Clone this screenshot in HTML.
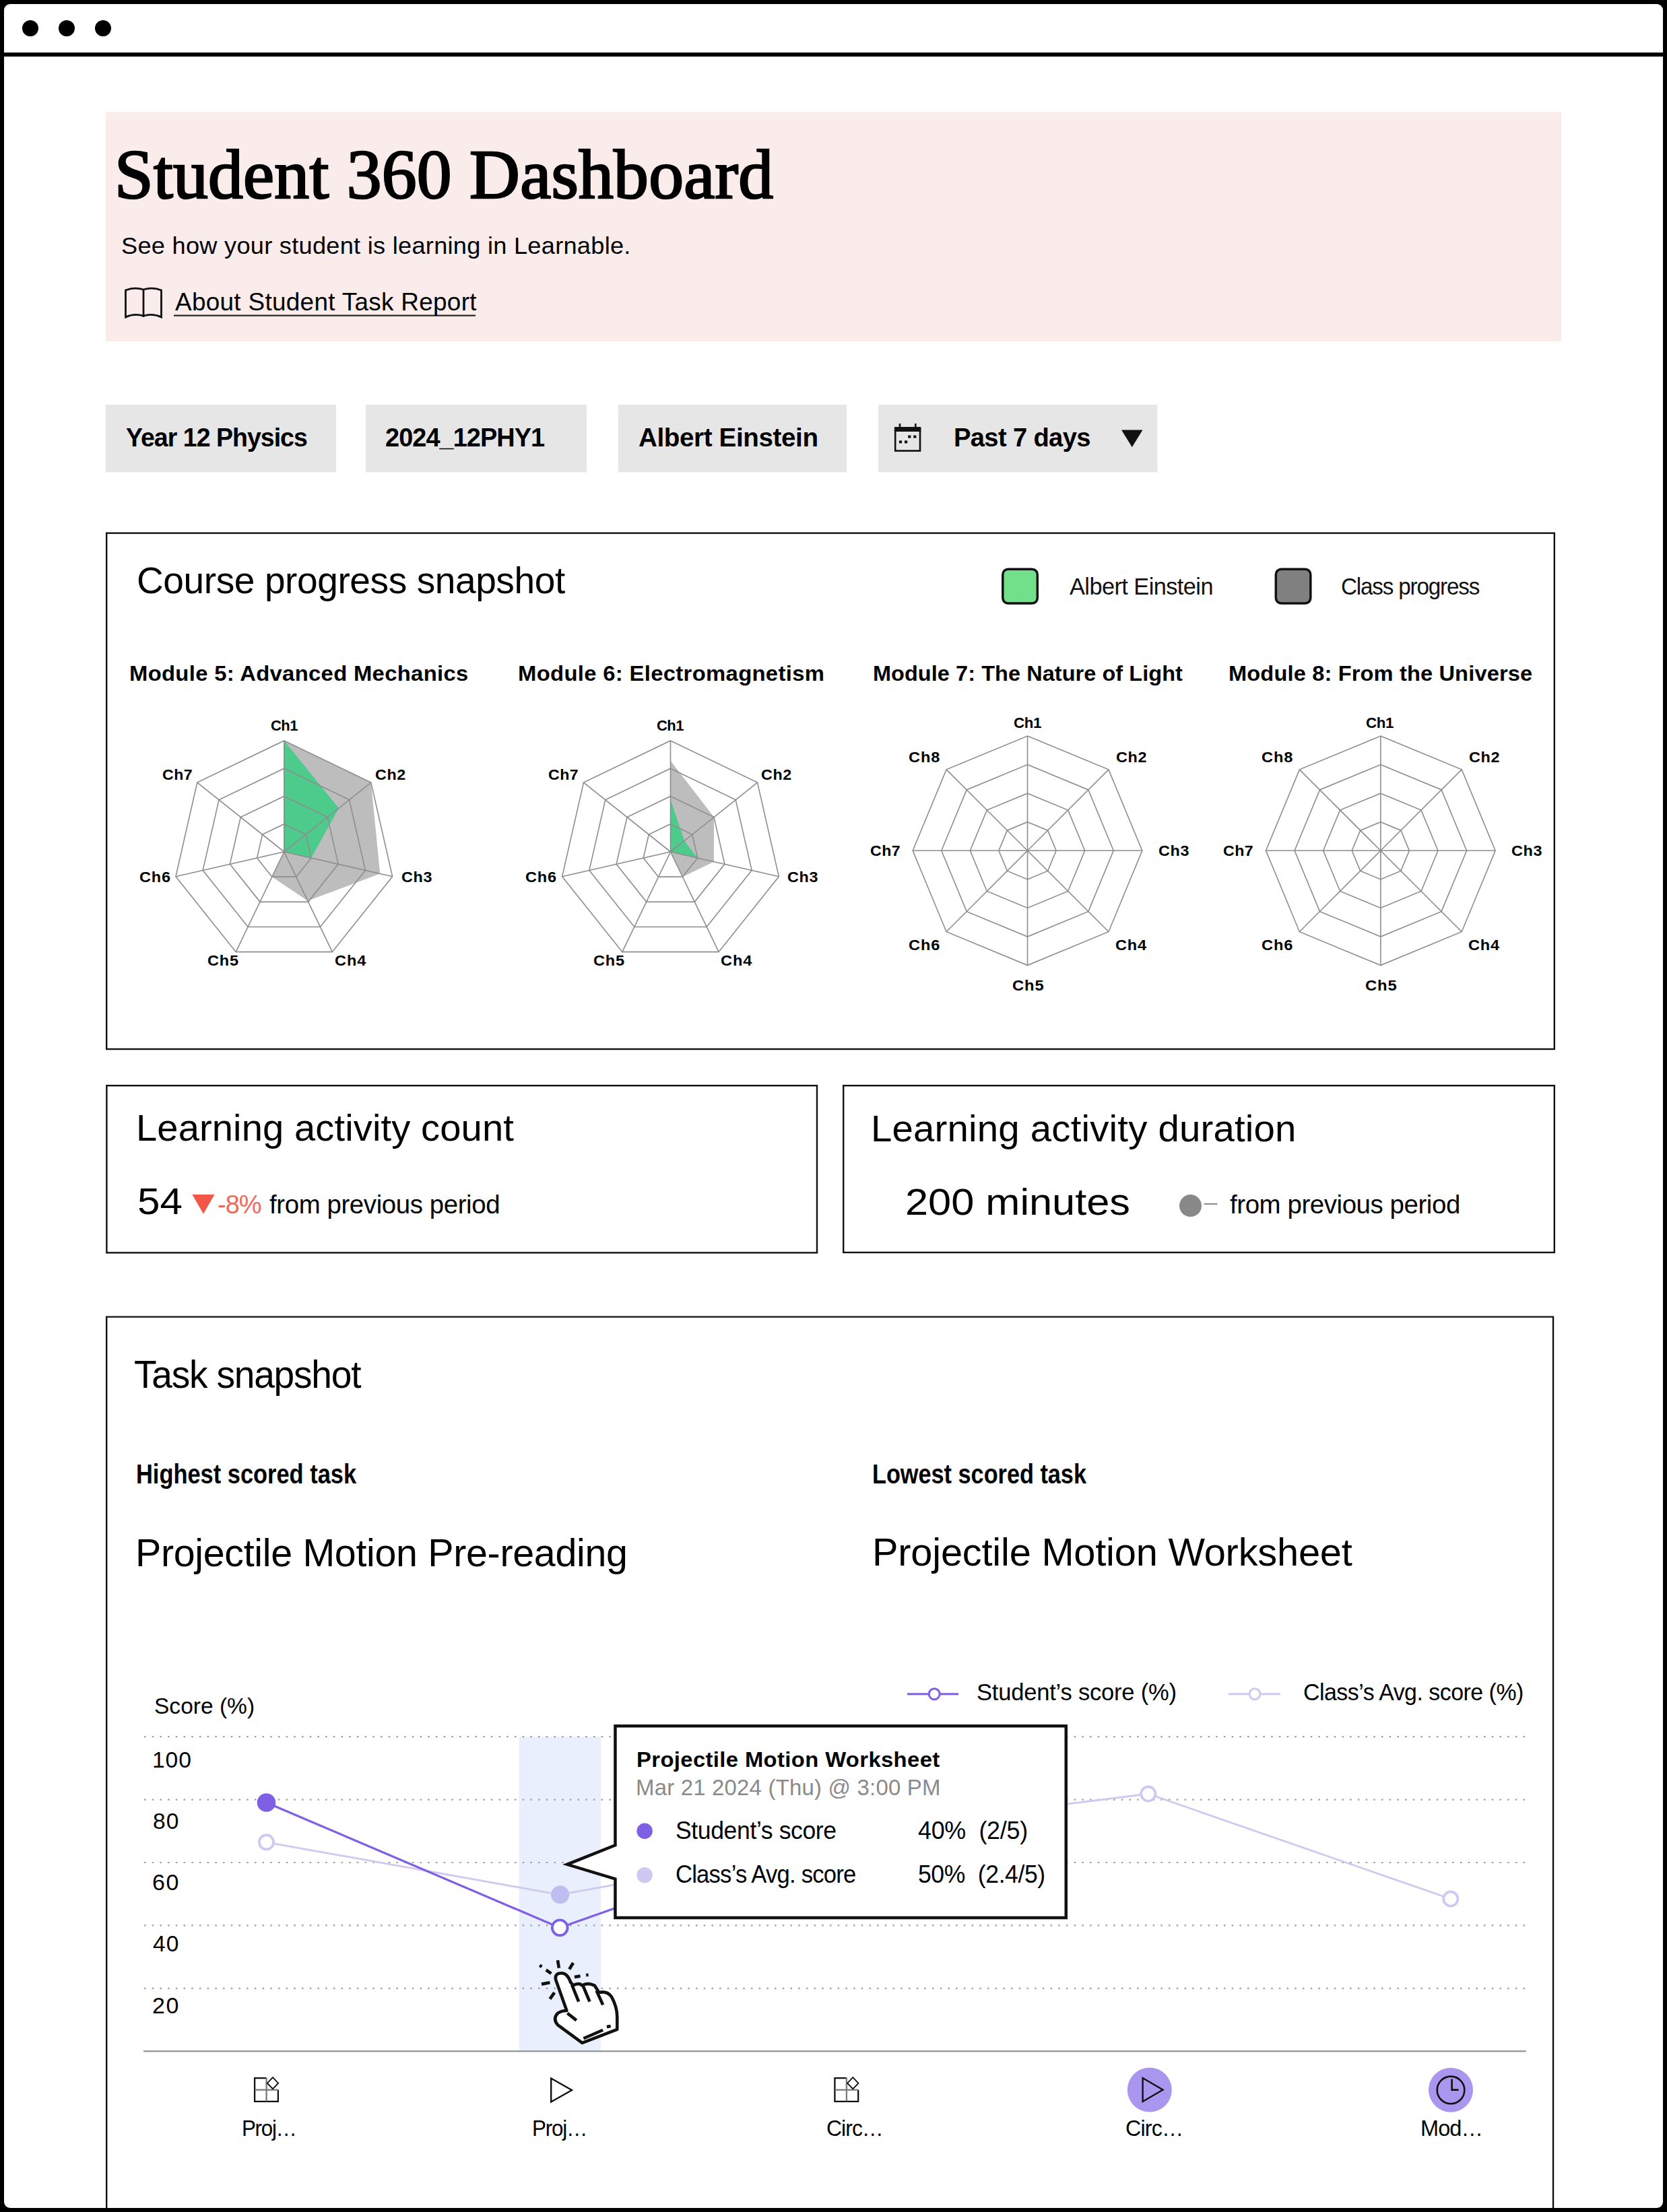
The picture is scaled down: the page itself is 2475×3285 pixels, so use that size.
<!DOCTYPE html>
<html><head><meta charset="utf-8"><title>Student 360 Dashboard</title>
<style>
html,body{margin:0;padding:0;}
body{width:2475px;height:3285px;background:#000;position:relative;overflow:hidden;}
.frame{position:absolute;left:6px;top:6px;width:2463px;height:3273px;background:#fff;border-radius:9px;overflow:hidden;}
.bar{position:absolute;left:0;top:78px;width:2475px;height:6px;background:#000;}
.dot{position:absolute;top:30px;width:24px;height:24px;border-radius:50%;background:#000;}
svg{position:absolute;left:0;top:0;}
.t{position:absolute;white-space:nowrap;transform-origin:0 0;}
</style></head><body>
<div class="frame"></div>
<div class="bar"></div>
<div class="dot" style="left:33px"></div><div class="dot" style="left:87px"></div><div class="dot" style="left:141px"></div>
<svg width="2475" height="3279" viewBox="0 0 2475 3279" style="z-index:1">
<rect x="157" y="166.5" width="2161" height="340.5" fill="#f9ecea"/>
<g fill="none" stroke="#111" stroke-width="2.8" stroke-linejoin="miter"><path d="M186.5,471 V431 Q199,426 213,430 Q227,426 239.5,431 V471 Q227,465 213,469 Q199,465 186.5,471 Z"/><path d="M213,430 V471"/></g>
<rect x="258" y="467.5" width="448" height="2.2" fill="#262626"/>
<rect x="156.7" y="601" width="342.3" height="100.4" fill="#e6e6e6"/>
<rect x="543" y="601" width="328.0" height="100.4" fill="#e6e6e6"/>
<rect x="917.8" y="601" width="339.2" height="100.4" fill="#e6e6e6"/>
<rect x="1304" y="601" width="414.5" height="100.4" fill="#e6e6e6"/>
<g fill="none" stroke="#111" stroke-width="2.6"><rect x="1329.2" y="637" width="36.8" height="32.5"/></g><rect x="1327.9" y="634" width="39.4" height="7" fill="#111"/><rect x="1334.7" y="629" width="2.6" height="6" fill="#111"/><rect x="1358" y="629" width="2.6" height="6" fill="#111"/><g fill="#111"><rect x="1334.9" y="654.3" width="4.2" height="4"/><rect x="1343" y="654.3" width="4.2" height="4"/><rect x="1348.2" y="646.5" width="4.2" height="4"/><rect x="1356.2" y="646.5" width="4.2" height="4"/></g>
<polygon points="1665,638.6 1696.5,638.6 1680.75,664" fill="#111"/>
<rect x="158.2" y="791.7" width="2149.6" height="766.3" fill="none" stroke="#111" stroke-width="2.4"/>
<rect x="1488.8" y="845.2" width="51.5" height="50.8" rx="8" fill="#72df8b" stroke="#111" stroke-width="3.5"/>
<rect x="1894.3" y="845.2" width="51.5" height="50.8" rx="8" fill="#808080" stroke="#111" stroke-width="3.5"/>
<polygon points="421.80,1100.00 550.80,1162.12 564.32,1297.53 456.88,1337.84 403.90,1302.16 421.80,1265.00 421.80,1265.00" fill="#bdbdbd"/>
<polygon points="421.80,1100.00 503.07,1200.19 462.02,1274.18 421.80,1265.00 421.80,1265.00 421.80,1265.00 421.80,1265.00" fill="#4ccb8b"/>
<g fill="none" stroke="#8e8e8e" stroke-width="1.6"><polygon points="421.80,1223.75 454.05,1239.28 462.02,1274.18 439.70,1302.16 403.90,1302.16 381.58,1274.18 389.55,1239.28"/><polygon points="421.80,1182.50 486.30,1213.56 502.23,1283.36 457.60,1339.33 386.00,1339.33 341.37,1283.36 357.30,1213.56"/><polygon points="421.80,1141.25 518.55,1187.84 542.45,1292.54 475.49,1376.49 368.11,1376.49 301.15,1292.54 325.05,1187.84"/><polygon points="421.80,1100.00 550.80,1162.12 582.66,1301.72 493.39,1413.66 350.21,1413.66 260.94,1301.72 292.80,1162.12"/><line x1="421.8" y1="1265" x2="421.80" y2="1100.00"/><line x1="421.8" y1="1265" x2="550.80" y2="1162.12"/><line x1="421.8" y1="1265" x2="582.66" y2="1301.72"/><line x1="421.8" y1="1265" x2="493.39" y2="1413.66"/><line x1="421.8" y1="1265" x2="350.21" y2="1413.66"/><line x1="421.8" y1="1265" x2="260.94" y2="1301.72"/><line x1="421.8" y1="1265" x2="292.80" y2="1162.12"/></g>
<polygon points="995.50,1129.70 1060.00,1213.56 1059.85,1279.69 1013.40,1302.16 995.50,1265.00 995.50,1265.00 995.50,1265.00" fill="#bdbdbd"/>
<polygon points="995.50,1187.45 1016.14,1248.54 1035.72,1274.18 995.50,1265.00 995.50,1265.00 995.50,1265.00 995.50,1265.00" fill="#4ccb8b"/>
<g fill="none" stroke="#8e8e8e" stroke-width="1.6"><polygon points="995.50,1223.75 1027.75,1239.28 1035.72,1274.18 1013.40,1302.16 977.60,1302.16 955.28,1274.18 963.25,1239.28"/><polygon points="995.50,1182.50 1060.00,1213.56 1075.93,1283.36 1031.30,1339.33 959.70,1339.33 915.07,1283.36 931.00,1213.56"/><polygon points="995.50,1141.25 1092.25,1187.84 1116.15,1292.54 1049.19,1376.49 941.81,1376.49 874.85,1292.54 898.75,1187.84"/><polygon points="995.50,1100.00 1124.50,1162.12 1156.36,1301.72 1067.09,1413.66 923.91,1413.66 834.64,1301.72 866.50,1162.12"/><line x1="995.5" y1="1265" x2="995.50" y2="1100.00"/><line x1="995.5" y1="1265" x2="1124.50" y2="1162.12"/><line x1="995.5" y1="1265" x2="1156.36" y2="1301.72"/><line x1="995.5" y1="1265" x2="1067.09" y2="1413.66"/><line x1="995.5" y1="1265" x2="923.91" y2="1413.66"/><line x1="995.5" y1="1265" x2="834.64" y2="1301.72"/><line x1="995.5" y1="1265" x2="866.50" y2="1162.12"/></g>
<g fill="none" stroke="#8e8e8e" stroke-width="1.6"><polygon points="1525.50,1220.72 1555.61,1233.19 1568.08,1263.30 1555.61,1293.41 1525.50,1305.88 1495.39,1293.41 1482.92,1263.30 1495.39,1233.19"/><polygon points="1525.50,1178.15 1585.71,1203.09 1610.65,1263.30 1585.71,1323.51 1525.50,1348.45 1465.29,1323.51 1440.35,1263.30 1465.29,1203.09"/><polygon points="1525.50,1135.58 1615.82,1172.98 1653.22,1263.30 1615.82,1353.62 1525.50,1391.02 1435.18,1353.62 1397.78,1263.30 1435.18,1172.98"/><polygon points="1525.50,1093.00 1645.92,1142.88 1695.80,1263.30 1645.92,1383.72 1525.50,1433.60 1405.08,1383.72 1355.20,1263.30 1405.08,1142.88"/><line x1="1525.5" y1="1263.3" x2="1525.50" y2="1093.00"/><line x1="1525.5" y1="1263.3" x2="1645.92" y2="1142.88"/><line x1="1525.5" y1="1263.3" x2="1695.80" y2="1263.30"/><line x1="1525.5" y1="1263.3" x2="1645.92" y2="1383.72"/><line x1="1525.5" y1="1263.3" x2="1525.50" y2="1433.60"/><line x1="1525.5" y1="1263.3" x2="1405.08" y2="1383.72"/><line x1="1525.5" y1="1263.3" x2="1355.20" y2="1263.30"/><line x1="1525.5" y1="1263.3" x2="1405.08" y2="1142.88"/></g>
<g fill="none" stroke="#8e8e8e" stroke-width="1.6"><polygon points="2049.80,1220.72 2079.91,1233.19 2092.38,1263.30 2079.91,1293.41 2049.80,1305.88 2019.69,1293.41 2007.23,1263.30 2019.69,1233.19"/><polygon points="2049.80,1178.15 2110.01,1203.09 2134.95,1263.30 2110.01,1323.51 2049.80,1348.45 1989.59,1323.51 1964.65,1263.30 1989.59,1203.09"/><polygon points="2049.80,1135.58 2140.12,1172.98 2177.53,1263.30 2140.12,1353.62 2049.80,1391.02 1959.48,1353.62 1922.08,1263.30 1959.48,1172.98"/><polygon points="2049.80,1093.00 2170.22,1142.88 2220.10,1263.30 2170.22,1383.72 2049.80,1433.60 1929.38,1383.72 1879.50,1263.30 1929.38,1142.88"/><line x1="2049.8" y1="1263.3" x2="2049.80" y2="1093.00"/><line x1="2049.8" y1="1263.3" x2="2170.22" y2="1142.88"/><line x1="2049.8" y1="1263.3" x2="2220.10" y2="1263.30"/><line x1="2049.8" y1="1263.3" x2="2170.22" y2="1383.72"/><line x1="2049.8" y1="1263.3" x2="2049.80" y2="1433.60"/><line x1="2049.8" y1="1263.3" x2="1929.38" y2="1383.72"/><line x1="2049.8" y1="1263.3" x2="1879.50" y2="1263.30"/><line x1="2049.8" y1="1263.3" x2="1929.38" y2="1142.88"/></g>
<rect x="158.4" y="1612.2" width="1054.6" height="248.2" fill="none" stroke="#111" stroke-width="2.4"/>
<rect x="1252.2" y="1612.2" width="1055.6" height="247.8" fill="none" stroke="#111" stroke-width="2.4"/>
<polygon points="285.4,1774 318.5,1774 301.95,1802.7" fill="#f4574a"/>
<circle cx="1767.5" cy="1790.6" r="16.5" fill="#888"/>
<rect x="1787.6" y="1787" width="19.8" height="2" fill="#888"/>
<path d="M158.2,3285 V1955.6 H2306 V3285" fill="none" stroke="#111" stroke-width="2.4"/>
<rect x="770.6" y="2579" width="121.4" height="467" fill="#e9effc"/>
<line x1="214" y1="2579.2" x2="2265" y2="2579.2" stroke="#a0a0a0" stroke-width="2.2" stroke-dasharray="2.6 9.1"/>
<line x1="214" y1="2672.6" x2="2265" y2="2672.6" stroke="#a0a0a0" stroke-width="2.2" stroke-dasharray="2.6 9.1"/>
<line x1="214" y1="2766" x2="2265" y2="2766" stroke="#a0a0a0" stroke-width="2.2" stroke-dasharray="2.6 9.1"/>
<line x1="214" y1="2859.4" x2="2265" y2="2859.4" stroke="#a0a0a0" stroke-width="2.2" stroke-dasharray="2.6 9.1"/>
<line x1="214" y1="2952.8" x2="2265" y2="2952.8" stroke="#a0a0a0" stroke-width="2.2" stroke-dasharray="2.6 9.1"/>
<rect x="213" y="3045" width="2052.7" height="2.4" fill="#9a9a9a"/>
<polyline points="395.50,2735.80 831.00,2813.80 1257.00,2736.40 1257.00,2720.00 1704.80,2664.00 2153.80,2820.00" fill="none" stroke="#d0c8f0" stroke-width="2.8"/>
<polyline points="395.50,2677.00 831.00,2862.80 1257.00,2712.50" fill="none" stroke="#7f60e5" stroke-width="3.2"/>
<circle cx="395.5" cy="2677" r="13.8" fill="#7f60e5"/>
<circle cx="395.5" cy="2735.8" r="10.6" fill="#fff" stroke="#d0c8f0" stroke-width="3.8"/>
<circle cx="831.6" cy="2813.8" r="13.5" fill="#c0bdf0"/>
<circle cx="831.2" cy="2862.8" r="11.4" fill="#fff" stroke="#7f60e5" stroke-width="3.8"/>
<circle cx="1704.8" cy="2664" r="10.6" fill="#fff" stroke="#d0c8f0" stroke-width="3.8"/>
<circle cx="2153.8" cy="2820" r="10.6" fill="#fff" stroke="#d0c8f0" stroke-width="3.8"/>
<rect x="1347" y="2514.3" width="76" height="3" fill="#7f60e5"/><circle cx="1387.2" cy="2515.8" r="8" fill="#fff" stroke="#7f60e5" stroke-width="3"/>
<rect x="1824" y="2514.3" width="76.7" height="3" fill="#d0c8f0"/><circle cx="1863" cy="2515.8" r="8" fill="#fff" stroke="#d0c8f0" stroke-width="3"/>
<g fill="none" stroke-width="2.3"><path d="M395.6,3086.1 H378.1 V3120.9 H412.9 V3103.5" stroke="#111"/><path d="M378.5,3103.6 H412.5 M395.6,3085.5 V3120.5" stroke="#7a7a7a"/><path d="M405.0,3085.2 L413.2,3093.7 L405.0,3102.2 L396.8,3093.7 Z" stroke="#111" stroke-width="1.9" fill="#fff"/></g>
<g fill="none" stroke-width="2.3"><path d="M1256.8999999999999,3086.1 H1239.3999999999999 V3120.9 H1274.2 V3103.5" stroke="#111"/><path d="M1239.8,3103.6 H1273.8 M1256.8999999999999,3085.5 V3120.5" stroke="#7a7a7a"/><path d="M1266.3,3085.2 L1274.5,3093.7 L1266.3,3102.2 L1258.1,3093.7 Z" stroke="#111" stroke-width="1.9" fill="#fff"/></g>
<path d="M818.2,3086.5 V3121.5 L849,3104 Z" fill="none" stroke="#111" stroke-width="2.4" stroke-linejoin="miter"/>
<circle cx="1706.8" cy="3103.6" r="33" fill="#a996ee"/>
<path d="M1696.6,3086 V3121 L1726.5,3103.5 Z" fill="none" stroke="#111" stroke-width="2.4"/>
<circle cx="2154" cy="3103.7" r="33" fill="#a996ee"/>
<circle cx="2154" cy="3103.9" r="20.3" fill="none" stroke="#111" stroke-width="2.6"/>
<path d="M2155.6,3087.5 V3103.6 H2165.5" fill="none" stroke="#111" stroke-width="2.6"/>
</svg>
<div style="position:absolute;left:0;top:0;z-index:2">
<div class="t" style="left:170.00px;top:208.38px;font-family:'Liberation Serif';font-weight:400;font-size:103.664px;line-height:103.664px;letter-spacing:0.250px;color:#000;-webkit-text-stroke:2.6px #000;">Student 360 Dashboard</div>
<div class="t" style="left:180.07px;top:348.36px;font-family:'Liberation Sans';font-weight:400;font-size:35.610px;line-height:35.610px;letter-spacing:0.263px;color:#000;transform:scaleX(1.0163);">See how your student is learning in Learnable.</div>
<div class="t" style="left:259.50px;top:431.24px;font-family:'Liberation Sans';font-weight:400;font-size:36.337px;line-height:36.337px;letter-spacing:0.289px;color:#000;transform:scaleX(1.0160);">About Student Task Report</div>
<div class="t" style="left:187.25px;top:629.56px;font-family:'Liberation Sans';font-weight:700;font-size:39.390px;line-height:39.390px;letter-spacing:-1.017px;color:#000;transform:scaleX(0.9517);">Year 12 Physics</div>
<div class="t" style="left:572.04px;top:629.86px;font-family:'Liberation Sans';font-weight:700;font-size:39.390px;line-height:39.390px;letter-spacing:-0.968px;color:#000;transform:scaleX(0.9619);">2024_12PHY1</div>
<div class="t" style="left:947.92px;top:629.86px;font-family:'Liberation Sans';font-weight:700;font-size:39.390px;line-height:39.390px;letter-spacing:-0.390px;color:#000;transform:scaleX(0.9802);">Albert Einstein</div>
<div class="t" style="left:1416.19px;top:629.86px;font-family:'Liberation Sans';font-weight:700;font-size:39.390px;line-height:39.390px;letter-spacing:-0.665px;color:#000;transform:scaleX(0.9686);">Past 7 days</div>
<div class="t" style="left:203.35px;top:833.93px;font-family:'Liberation Sans';font-weight:400;font-size:55.959px;line-height:55.959px;letter-spacing:-0.434px;color:#000;transform:scaleX(0.9847);">Course progress snapshot</div>
<div class="t" style="left:1587.50px;top:854.36px;font-family:'Liberation Sans';font-weight:400;font-size:35.610px;line-height:35.610px;letter-spacing:-0.582px;color:#111;transform:scaleX(0.9641);">Albert Einstein</div>
<div class="t" style="left:1990.64px;top:854.36px;font-family:'Liberation Sans';font-weight:400;font-size:35.610px;line-height:35.610px;letter-spacing:-1.235px;color:#111;transform:scaleX(0.9314);">Class progress</div>
<div class="t" style="left:192.27px;top:984.29px;font-family:'Liberation Sans';font-weight:700;font-size:32.267px;line-height:32.267px;letter-spacing:0.312px;color:#000;transform:scaleX(1.0174);">Module 5: Advanced Mechanics</div>
<div class="t" style="left:768.96px;top:984.29px;font-family:'Liberation Sans';font-weight:700;font-size:32.267px;line-height:32.267px;letter-spacing:0.313px;color:#000;transform:scaleX(1.0180);">Module 6: Electromagnetism</div>
<div class="t" style="left:1295.69px;top:984.29px;font-family:'Liberation Sans';font-weight:700;font-size:32.267px;line-height:32.267px;letter-spacing:0.085px;color:#000;transform:scaleX(1.0053);">Module 7: The Nature of Light</div>
<div class="t" style="left:1824.48px;top:984.29px;font-family:'Liberation Sans';font-weight:700;font-size:32.267px;line-height:32.267px;letter-spacing:0.163px;color:#000;transform:scaleX(1.0096);">Module 8: From the Universe</div>
<div class="t" style="left:201.88px;top:1647.33px;font-family:'Liberation Sans';font-weight:400;font-size:55.959px;line-height:55.959px;letter-spacing:0.095px;color:#000;transform:scaleX(1.0038);">Learning activity count</div>
<div class="t" style="left:204.31px;top:1757.29px;font-family:'Liberation Sans';font-weight:400;font-size:54.942px;line-height:54.942px;letter-spacing:0.000px;color:#000;transform:scaleX(1.0948);">54</div>
<div class="t" style="left:322.56px;top:1768.78px;font-family:'Liberation Sans';font-weight:400;font-size:39.244px;line-height:39.244px;letter-spacing:-1.015px;color:#f0685c;transform:scaleX(0.9697);">-8%</div>
<div class="t" style="left:399.50px;top:1768.78px;font-family:'Liberation Sans';font-weight:400;font-size:39.244px;line-height:39.244px;letter-spacing:-0.399px;color:#000;transform:scaleX(0.9786);">from previous period</div>
<div class="t" style="left:1293.47px;top:1648.23px;font-family:'Liberation Sans';font-weight:400;font-size:55.959px;line-height:55.959px;letter-spacing:0.189px;color:#000;transform:scaleX(1.0077);">Learning activity duration</div>
<div class="t" style="left:1343.64px;top:1758.11px;font-family:'Liberation Sans';font-weight:400;font-size:54.797px;line-height:54.797px;letter-spacing:0.000px;color:#000;transform:scaleX(1.1191);">200 minutes</div>
<div class="t" style="left:1825.50px;top:1769.28px;font-family:'Liberation Sans';font-weight:400;font-size:39.244px;line-height:39.244px;letter-spacing:-0.407px;color:#000;transform:scaleX(0.9782);">from previous period</div>
<div class="t" style="left:198.54px;top:2013.28px;font-family:'Liberation Sans';font-weight:400;font-size:57.558px;line-height:57.558px;letter-spacing:-1.294px;color:#000;transform:scaleX(0.9577);">Task snapshot</div>
<div class="t" style="left:201.62px;top:2169.96px;font-family:'Liberation Sans';font-weight:700;font-size:39.971px;line-height:39.971px;letter-spacing:0.000px;color:#000;transform:scaleX(0.8610);">Highest scored task</div>
<div class="t" style="left:200.56px;top:2276.78px;font-family:'Liberation Sans';font-weight:400;font-size:58.140px;line-height:58.140px;letter-spacing:-0.332px;color:#000;transform:scaleX(0.9874);">Projectile Motion Pre-reading</div>
<div class="t" style="left:1294.93px;top:2170.16px;font-family:'Liberation Sans';font-weight:700;font-size:39.971px;line-height:39.971px;letter-spacing:0.000px;color:#000;transform:scaleX(0.8571);">Lowest scored task</div>
<div class="t" style="left:1294.53px;top:2275.58px;font-family:'Liberation Sans';font-weight:400;font-size:58.140px;line-height:58.140px;letter-spacing:-0.187px;color:#000;transform:scaleX(0.9932);">Projectile Motion Worksheet</div>
<div class="t" style="left:228.80px;top:2517.20px;font-family:'Liberation Sans';font-weight:400;font-size:33.430px;line-height:33.430px;letter-spacing:0.031px;color:#000;transform:scaleX(1.0017);">Score (%)</div>
<div class="t" style="left:226.43px;top:2597.84px;font-family:'Liberation Sans';font-weight:400;font-size:32.558px;line-height:32.558px;letter-spacing:0.860px;color:#000;transform:scaleX(1.0337);">100</div>
<div class="t" style="left:227.47px;top:2688.74px;font-family:'Liberation Sans';font-weight:400;font-size:32.558px;line-height:32.558px;letter-spacing:0.986px;color:#000;transform:scaleX(1.0290);">80</div>
<div class="t" style="left:226.41px;top:2779.94px;font-family:'Liberation Sans';font-weight:400;font-size:32.558px;line-height:32.558px;letter-spacing:1.467px;color:#000;transform:scaleX(1.0445);">60</div>
<div class="t" style="left:227.47px;top:2871.44px;font-family:'Liberation Sans';font-weight:400;font-size:32.558px;line-height:32.558px;letter-spacing:0.986px;color:#000;transform:scaleX(1.0290);">40</div>
<div class="t" style="left:226.41px;top:2962.94px;font-family:'Liberation Sans';font-weight:400;font-size:32.558px;line-height:32.558px;letter-spacing:1.467px;color:#000;transform:scaleX(1.0445);">20</div>
<div class="t" style="left:1450.32px;top:2496.47px;font-family:'Liberation Sans';font-weight:400;font-size:34.884px;line-height:34.884px;letter-spacing:-0.187px;color:#000;transform:scaleX(0.9888);">Student’s score (%)</div>
<div class="t" style="left:1934.56px;top:2496.47px;font-family:'Liberation Sans';font-weight:400;font-size:34.884px;line-height:34.884px;letter-spacing:-0.488px;color:#000;transform:scaleX(0.9702);">Class’s Avg. score (%)</div>
<div class="t" style="left:358.69px;top:3143.70px;font-family:'Liberation Sans';font-weight:400;font-size:33.430px;line-height:33.430px;letter-spacing:-1.355px;color:#000;transform:scaleX(0.9370);">Proj…</div>
<div class="t" style="left:790.48px;top:3143.70px;font-family:'Liberation Sans';font-weight:400;font-size:33.430px;line-height:33.430px;letter-spacing:-1.302px;color:#000;transform:scaleX(0.9394);">Proj…</div>
<div class="t" style="left:1227.29px;top:3143.70px;font-family:'Liberation Sans';font-weight:400;font-size:33.430px;line-height:33.430px;letter-spacing:-0.998px;color:#000;transform:scaleX(0.9541);">Circ…</div>
<div class="t" style="left:1671.38px;top:3143.70px;font-family:'Liberation Sans';font-weight:400;font-size:33.430px;line-height:33.430px;letter-spacing:-0.828px;color:#000;transform:scaleX(0.9619);">Circ…</div>
<div class="t" style="left:2109.19px;top:3143.70px;font-family:'Liberation Sans';font-weight:400;font-size:33.430px;line-height:33.430px;letter-spacing:-0.879px;color:#000;transform:scaleX(0.9710);">Mod…</div>
<div class="t" style="left:401.53px;top:1065.51px;font-family:'Liberation Sans';font-weight:700;font-size:22.674px;line-height:22.674px;letter-spacing:-0.583px;color:#000;transform:scaleX(0.9715);">Ch1</div>
<div class="t" style="left:240.98px;top:1139.41px;font-family:'Liberation Sans';font-weight:700;font-size:22.674px;line-height:22.674px;letter-spacing:0.445px;color:#000;transform:scaleX(1.0217);">Ch7</div>
<div class="t" style="left:556.97px;top:1139.41px;font-family:'Liberation Sans';font-weight:700;font-size:22.674px;line-height:22.674px;letter-spacing:0.567px;color:#000;transform:scaleX(1.0277);">Ch2</div>
<div class="t" style="left:207.06px;top:1291.21px;font-family:'Liberation Sans';font-weight:700;font-size:22.674px;line-height:22.674px;letter-spacing:0.761px;color:#000;transform:scaleX(1.0371);">Ch6</div>
<div class="t" style="left:596.07px;top:1291.21px;font-family:'Liberation Sans';font-weight:700;font-size:22.674px;line-height:22.674px;letter-spacing:0.640px;color:#000;transform:scaleX(1.0312);">Ch3</div>
<div class="t" style="left:307.76px;top:1415.41px;font-family:'Liberation Sans';font-weight:700;font-size:22.674px;line-height:22.674px;letter-spacing:0.761px;color:#000;transform:scaleX(1.0371);">Ch5</div>
<div class="t" style="left:496.76px;top:1415.41px;font-family:'Liberation Sans';font-weight:700;font-size:22.674px;line-height:22.674px;letter-spacing:0.857px;color:#000;transform:scaleX(1.0408);">Ch4</div>
<div class="t" style="left:974.93px;top:1065.51px;font-family:'Liberation Sans';font-weight:700;font-size:22.674px;line-height:22.674px;letter-spacing:-0.583px;color:#000;transform:scaleX(0.9715);">Ch1</div>
<div class="t" style="left:814.38px;top:1139.41px;font-family:'Liberation Sans';font-weight:700;font-size:22.674px;line-height:22.674px;letter-spacing:0.445px;color:#000;transform:scaleX(1.0217);">Ch7</div>
<div class="t" style="left:1130.37px;top:1139.41px;font-family:'Liberation Sans';font-weight:700;font-size:22.674px;line-height:22.674px;letter-spacing:0.567px;color:#000;transform:scaleX(1.0277);">Ch2</div>
<div class="t" style="left:780.46px;top:1291.21px;font-family:'Liberation Sans';font-weight:700;font-size:22.674px;line-height:22.674px;letter-spacing:0.761px;color:#000;transform:scaleX(1.0371);">Ch6</div>
<div class="t" style="left:1169.47px;top:1291.21px;font-family:'Liberation Sans';font-weight:700;font-size:22.674px;line-height:22.674px;letter-spacing:0.640px;color:#000;transform:scaleX(1.0312);">Ch3</div>
<div class="t" style="left:881.16px;top:1415.41px;font-family:'Liberation Sans';font-weight:700;font-size:22.674px;line-height:22.674px;letter-spacing:0.761px;color:#000;transform:scaleX(1.0371);">Ch5</div>
<div class="t" style="left:1070.16px;top:1415.41px;font-family:'Liberation Sans';font-weight:700;font-size:22.674px;line-height:22.674px;letter-spacing:0.857px;color:#000;transform:scaleX(1.0408);">Ch4</div>
<div class="t" style="left:1504.52px;top:1062.41px;font-family:'Liberation Sans';font-weight:700;font-size:22.674px;line-height:22.674px;letter-spacing:-0.353px;color:#000;transform:scaleX(0.9828);">Ch1</div>
<div class="t" style="left:1349.06px;top:1113.31px;font-family:'Liberation Sans';font-weight:700;font-size:22.674px;line-height:22.674px;letter-spacing:0.833px;color:#000;transform:scaleX(1.0406);">Ch8</div>
<div class="t" style="left:1657.27px;top:1113.31px;font-family:'Liberation Sans';font-weight:700;font-size:22.674px;line-height:22.674px;letter-spacing:0.664px;color:#000;transform:scaleX(1.0324);">Ch2</div>
<div class="t" style="left:1292.38px;top:1252.11px;font-family:'Liberation Sans';font-weight:700;font-size:22.674px;line-height:22.674px;letter-spacing:0.421px;color:#000;transform:scaleX(1.0205);">Ch7</div>
<div class="t" style="left:1720.27px;top:1252.11px;font-family:'Liberation Sans';font-weight:700;font-size:22.674px;line-height:22.674px;letter-spacing:0.664px;color:#000;transform:scaleX(1.0324);">Ch3</div>
<div class="t" style="left:1349.06px;top:1392.11px;font-family:'Liberation Sans';font-weight:700;font-size:22.674px;line-height:22.674px;letter-spacing:0.833px;color:#000;transform:scaleX(1.0406);">Ch6</div>
<div class="t" style="left:1656.26px;top:1392.11px;font-family:'Liberation Sans';font-weight:700;font-size:22.674px;line-height:22.674px;letter-spacing:0.785px;color:#000;transform:scaleX(1.0374);">Ch4</div>
<div class="t" style="left:1502.85px;top:1452.31px;font-family:'Liberation Sans';font-weight:700;font-size:22.674px;line-height:22.674px;letter-spacing:0.953px;color:#000;transform:scaleX(1.0465);">Ch5</div>
<div class="t" style="left:2028.22px;top:1062.41px;font-family:'Liberation Sans';font-weight:700;font-size:22.674px;line-height:22.674px;letter-spacing:-0.353px;color:#000;transform:scaleX(0.9828);">Ch1</div>
<div class="t" style="left:1872.76px;top:1113.31px;font-family:'Liberation Sans';font-weight:700;font-size:22.674px;line-height:22.674px;letter-spacing:0.833px;color:#000;transform:scaleX(1.0406);">Ch8</div>
<div class="t" style="left:2180.97px;top:1113.31px;font-family:'Liberation Sans';font-weight:700;font-size:22.674px;line-height:22.674px;letter-spacing:0.664px;color:#000;transform:scaleX(1.0324);">Ch2</div>
<div class="t" style="left:1816.08px;top:1252.11px;font-family:'Liberation Sans';font-weight:700;font-size:22.674px;line-height:22.674px;letter-spacing:0.421px;color:#000;transform:scaleX(1.0205);">Ch7</div>
<div class="t" style="left:2243.97px;top:1252.11px;font-family:'Liberation Sans';font-weight:700;font-size:22.674px;line-height:22.674px;letter-spacing:0.664px;color:#000;transform:scaleX(1.0324);">Ch3</div>
<div class="t" style="left:1872.76px;top:1392.11px;font-family:'Liberation Sans';font-weight:700;font-size:22.674px;line-height:22.674px;letter-spacing:0.833px;color:#000;transform:scaleX(1.0406);">Ch6</div>
<div class="t" style="left:2179.96px;top:1392.11px;font-family:'Liberation Sans';font-weight:700;font-size:22.674px;line-height:22.674px;letter-spacing:0.785px;color:#000;transform:scaleX(1.0374);">Ch4</div>
<div class="t" style="left:2026.55px;top:1452.31px;font-family:'Liberation Sans';font-weight:700;font-size:22.674px;line-height:22.674px;letter-spacing:0.953px;color:#000;transform:scaleX(1.0465);">Ch5</div>
</div>
<svg width="2475" height="3279" viewBox="0 0 2475 3279" style="z-index:10">
<path d="M913.45,2563.25 H1582.75 V2847.95 H913.45 V2790.4 L842,2768.8 L913.45,2740.3 Z" fill="#fff" stroke="#111" stroke-width="4.5" stroke-linejoin="miter"/>
<circle cx="957.1" cy="2719.2" r="11.7" fill="#7f60e5"/>
<circle cx="957.1" cy="2784.7" r="11.7" fill="#d0c8f0"/>
<path d="M 841.42 2985.97 L 825.11 2939.90 Q 823.19 2930.31 833.74 2930.31 Q 842.38 2930.31 847.18 2943.74 L 851.02 2948.54 Q 859.65 2943.74 864.45 2948.54 Q 872.13 2943.74 882.69 2948.54 L 889.40 2959.10 Q 900.92 2956.22 907.64 2964.86 Q 916.28 2980.21 916.28 2995.57 L 916.28 3013.80 L 864.45 3033.95 L 827.98 3007.08 Q 820.31 2998.45 827.98 2989.81 Q 833.74 2985.97 841.42 2985.97 Z" fill="#fff" stroke="#111" stroke-width="4.6" stroke-linejoin="round"/>
<g fill="none" stroke="#111" stroke-width="4.6" stroke-linecap="butt"><path d="M 849.10 2947.58 L 859.17 2972.53"/><path d="M 865.41 2948.54 L 875.49 2972.53"/><path d="M 885.57 2956.22 L 895.16 2977.33"/><path d="M 842.38 2989.81 L 855.82 3000.36"/><path d="M 866.37 3027.24 L 895.16 3014.76"/><path d="M 900.92 3009.96 L 906.68 3009.00"/><path d="M 827.98 2911.11 L 829.90 2922.63"/><path d="M 845.26 2924.55 L 851.02 2914.95"/><path d="M 852.94 2936.07 L 861.57 2934.63"/><path d="M 870.21 2933.19 L 873.57 2932.71"/><path d="M 801.11 2918.79 L 804.47 2920.71"/><path d="M 810.71 2925.51 L 818.39 2930.79"/><path d="M 803.99 2946.62 L 816.47 2944.22"/><path d="M 816.47 2968.69 L 823.19 2959.10"/></g>
</svg>
<div style="position:absolute;left:0;top:0;z-index:20">
<div class="t" style="left:944.85px;top:2597.13px;font-family:'Liberation Sans';font-weight:700;font-size:31.977px;line-height:31.977px;letter-spacing:0.395px;color:#000;transform:scaleX(1.0241);z-index:20;">Projectile Motion Worksheet</div>
<div class="t" style="left:943.86px;top:2638.74px;font-family:'Liberation Sans';font-weight:400;font-size:32.558px;line-height:32.558px;letter-spacing:0.199px;color:#8a8a8a;transform:scaleX(1.0119);z-index:20;">Mar 21 2024 (Thu) @ 3:00 PM</div>
<div class="t" style="left:1002.94px;top:2701.14px;font-family:'Liberation Sans';font-weight:400;font-size:36.337px;line-height:36.337px;letter-spacing:-0.383px;color:#000;transform:scaleX(0.9782);z-index:20;">Student’s score</div>
<div class="t" style="left:1363.31px;top:2701.14px;font-family:'Liberation Sans';font-weight:400;font-size:36.337px;line-height:36.337px;letter-spacing:-0.252px;color:#000;transform:scaleX(0.9863);z-index:20;white-space:pre;">40%  (2/5)</div>
<div class="t" style="left:1003.00px;top:2765.64px;font-family:'Liberation Sans';font-weight:400;font-size:36.337px;line-height:36.337px;letter-spacing:-0.816px;color:#000;transform:scaleX(0.9525);z-index:20;">Class’s Avg. score</div>
<div class="t" style="left:1363.32px;top:2765.64px;font-family:'Liberation Sans';font-weight:400;font-size:36.337px;line-height:36.337px;letter-spacing:-0.400px;color:#000;transform:scaleX(0.9774);z-index:20;white-space:pre;">50%  (2.4/5)</div>
</div>
</body></html>
